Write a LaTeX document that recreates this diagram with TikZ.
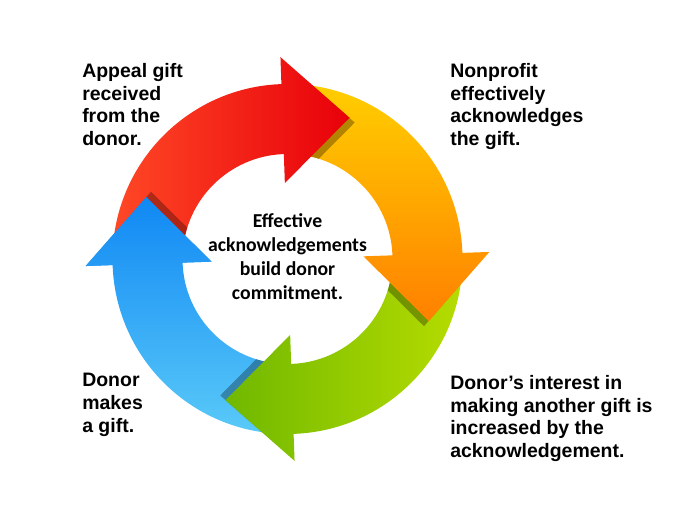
\documentclass[tikz,border=0pt]{standalone}
\usepackage{fontspec}
\setmainfont{Liberation Sans}
\newfontfamily\centerfont{Carlito}
\usetikzlibrary{positioning}
\definecolor{redA}{HTML}{FF4826}
\definecolor{redB}{HTML}{E8000A}
\definecolor{yellowA}{HTML}{FFCE00}
\definecolor{yellowB}{HTML}{FF8000}
\definecolor{greenA}{HTML}{B6DC00}
\definecolor{greenB}{HTML}{70B800}
\definecolor{blueA}{HTML}{1088F4}
\definecolor{blueB}{HTML}{5ACAF8}
\newcommand{\cyclepath}[1]{({#1+85}:175) arc[start angle={#1+85}, end angle={#1}, radius=175]
	-- (#1:202) -- ({#1-25.73}:154.3) -- (#1:76) -- (#1:105)
	arc[start angle={#1}, end angle={#1+85}, radius=105] -- cycle}
\newcommand{\headpath}[1]{(#1:202) -- ({#1-25.73}:154.3) -- (#1:76) -- cycle}

\begin{document}
\begin{tikzpicture}[x=0.75pt,y=0.75pt,
	redarrow/.style={left color=redA,right color=redB},
	yellowarrow/.style={top color=yellowA,bottom color=yellowB},
	greenarrow/.style={left color=greenB,right color=greenA},
	bluearrow/.style={top color=blueA,bottom color=blueB},
	headshadow/.style={fill=black,fill opacity=0.3},
	cornertext/.style={anchor=north west,inner sep=0pt,align=left,
		font=\fontsize{14.6}{17.1}\selectfont\bfseries},
	centertext/.style={anchor=north,inner sep=0pt,align=center,
		font=\centerfont\fontsize{14.8}{18}\selectfont\bfseries}
]
	\useasboundingbox (0,0) rectangle (689,531);

	\begin{scope}[shift={(287.5,272)}]
		\path[bluearrow] \cyclepath{182};
		\begin{scope}
			\clip \cyclepath{182};
			\fill[headshadow,shift={({-88-135}:7)}] \headpath{-88};
		\end{scope}
		\path[greenarrow] \cyclepath{-88};
		\begin{scope}
			\clip \cyclepath{-88};
			\fill[headshadow,shift={({2-135}:7)}] \headpath{2};
		\end{scope}
		\path[yellowarrow] \cyclepath{2};
		\begin{scope}
			\clip \cyclepath{2};
			\fill[headshadow,shift={({92-135}:7)}] \headpath{92};
		\end{scope}
		\path[redarrow] \cyclepath{92};
		\begin{scope}
			\clip \cyclepath{92};
			\fill[headshadow,shift={({182-135}:7)}] \headpath{182};
		\end{scope}
		\begin{scope}
			\clip \headpath{182};
			\path[bluearrow] \cyclepath{182};
		\end{scope}
	\end{scope}

	\node[cornertext] (appeal) at (82,468) {Appeal gift\\received\\from the\\donor.};
	\node[cornertext] (nonprofit) at (450,468) {Nonprofit\\effectively\\acknowledges\\the gift.};
	\node[cornertext] (makes) at (82,158) {Donor\\makes\\a gift.};
	\node[cornertext] (interest) at (450,156) {Donor’s interest in\\making another gift is\\increased by the\\acknowledgement.};
	\node[centertext] (effective) at (287.5,318) {Effective\\acknowledgements\\build donor\\commitment.};
\end{tikzpicture}
\end{document}
